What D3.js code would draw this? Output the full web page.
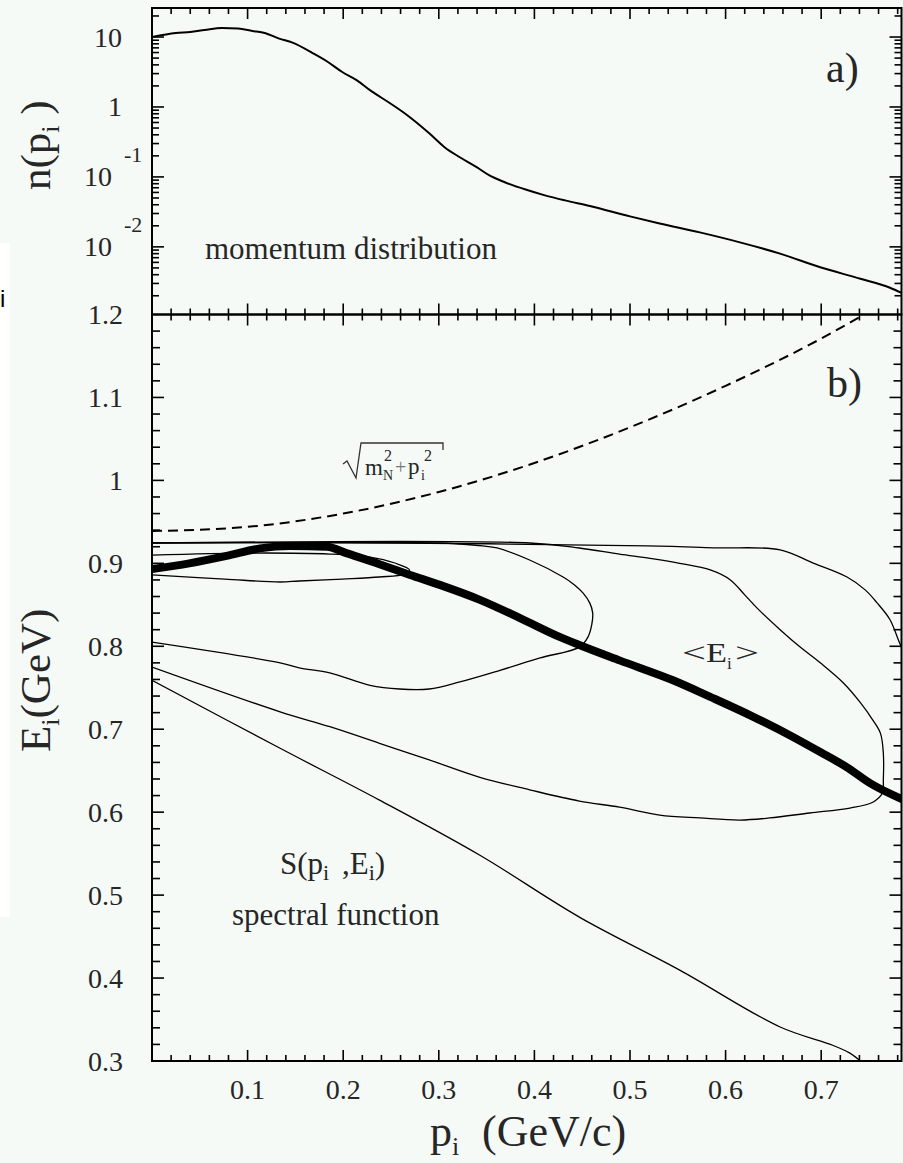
<!DOCTYPE html>
<html>
<head>
<meta charset="utf-8">
<script src="https://cdn.jsdelivr.net/npm/d3@7"></script>
<style>
  html, body { margin: 0; padding: 0; background: #f5faf7; }
  svg { display: block; }
  text { font-family: "Liberation Serif", "Times New Roman", serif; fill: #262626; }
</style>
</head>
<body>
<svg id="chart" width="903" height="1163"></svg>
<script>
// ---- a) momentum distribution n(p_i) ----
const momP = [0, 0.025, 0.04, 0.055, 0.073, 0.09, 0.105, 0.118, 0.133, 0.147, 0.168, 0.184, 0.199, 0.214, 0.228, 0.249, 0.266, 0.29, 0.306, 0.322, 0.34, 0.353, 0.369, 0.39, 0.411, 0.432, 0.458, 0.5, 0.531, 0.573, 0.615, 0.657, 0.699, 0.741, 0.772, 0.784];
const momN = [10, 11.4, 11.8, 12.6, 13.5, 13.2, 12.2, 11.4, 9.5, 8.3, 5.9, 4.4, 3.16, 2.42, 1.74, 1.13, 0.78, 0.42, 0.266, 0.191, 0.137, 0.105, 0.084, 0.0665, 0.0545, 0.0462, 0.0385, 0.0273, 0.0216, 0.0161, 0.0116, 0.008, 0.0051, 0.0035, 0.0026, 0.0022];

// ---- b) on-shell energy sqrt(mN^2 + p^2) ----
const onShellP = [0, 0.1, 0.2, 0.3, 0.4, 0.5, 0.6, 0.7, 0.745];
const onShellE = [0.939, 0.944, 0.960, 0.986, 1.021, 1.064, 1.114, 1.171, 1.2];

// ---- b) mean removal energy <E_i> ----
const meanP = [0, 0.039, 0.078, 0.113, 0.144, 0.183, 0.204, 0.238, 0.27, 0.301, 0.343, 0.385, 0.427, 0.447, 0.489, 0.545, 0.584, 0.629, 0.67, 0.699, 0.727, 0.751, 0.786];
const meanE = [0.893, 0.900, 0.909, 0.918, 0.921, 0.920, 0.912, 0.899, 0.886, 0.874, 0.856, 0.834, 0.811, 0.8015, 0.783, 0.759, 0.739, 0.715, 0.691, 0.6725, 0.654, 0.635, 0.615];

// ---- b) contour lines of the spectral function S(p_i, E_i) ----
const contAP = [0, 0.259, 0.518, 0.591, 0.657, 0.691, 0.727, 0.746, 0.758, 0.772, 0.782, 0.79];
const contAE = [0.925, 0.9245, 0.921, 0.9187, 0.9163, 0.9006, 0.8835, 0.868, 0.853, 0.832, 0.804, 0.785];

const contBP = [0, 0.301, 0.322, 0.346, 0.361, 0.395, 0.430, 0.442, 0.451, 0.458, 0.461, 0.460, 0.456, 0.447, 0.406, 0.364, 0.322, 0.290, 0.259, 0.228, 0.186, 0.154, 0.134, 0];
const contBE = [0.9245, 0.9245, 0.9233, 0.921, 0.9185, 0.904, 0.8835, 0.874, 0.864, 0.852, 0.840, 0.826, 0.811, 0.799, 0.786, 0.771, 0.757, 0.7485, 0.7485, 0.753, 0.768, 0.774, 0.780, 0.805];

const contCP = [0, 0.395, 0.447, 0.489, 0.521, 0.552, 0.584, 0.605, 0.620, 0.633, 0.657, 0.678, 0.699, 0.723, 0.741, 0.754, 0.762, 0.765, 0.765, 0.764, 0.754, 0.730, 0.688, 0.646, 0.615, 0.573, 0.531, 0.489, 0.447, 0.395, 0.343, 0.290, 0.238, 0.186, 0.134, 0];
const contCE = [0.9245, 0.9245, 0.9185, 0.911, 0.906, 0.900, 0.892, 0.880, 0.862, 0.846, 0.820, 0.799, 0.780, 0.756, 0.732, 0.711, 0.695, 0.671, 0.639, 0.623, 0.612, 0.605, 0.599, 0.593, 0.5905, 0.593, 0.5965, 0.606, 0.6134, 0.627, 0.642, 0.663, 0.683, 0.703, 0.721, 0.775];

const contDP = [0, 0.134, 0.238, 0.343, 0.447, 0.552, 0.657, 0.712, 0.730, 0.741];
const contDE = [0.759, 0.677, 0.6145, 0.548, 0.4735, 0.4096, 0.341, 0.319, 0.3095, 0.3];

const contEP = [0, 0.102, 0.186, 0.228, 0.254, 0.2695, 0.264, 0.238, 0.199, 0.154, 0.134, 0.076, 0];
const contEE = [0.910, 0.9124, 0.9112, 0.9076, 0.9004, 0.892, 0.887, 0.8835, 0.881, 0.8787, 0.8775, 0.881, 0.886];

// ---- tick labels ----
const xTickVals = [0.1, 0.2, 0.3, 0.4, 0.5, 0.6, 0.7];
const xTickLabels = ["0.1", "0.2", "0.3", "0.4", "0.5", "0.6", "0.7"];
const eTickVals = [1.2, 1.1, 1.0, 0.9, 0.8, 0.7, 0.6, 0.5, 0.4, 0.3];
const eTickLabels = ["1.2", "1.1", "1", "0.9", "0.8", "0.7", "0.6", "0.5", "0.4", "0.3"];
const nTickVals = [10, 1, 0.1, 0.01];
const nTickBase = ["10", "1", "10", "10"];
const nTickExp = ["", "", "-1", "-2"];

// ---- layout ----
const left = 152, right = 901.5;
const aTop = 8, mid = 314.5, bBottom = 1061;

const svg = d3.select("#chart");

const x = d3.scaleLinear().domain([0, 0.784]).range([left, right]);
const yA = d3.scaleLog().domain([Math.pow(10, -2.967), Math.pow(10, 1.415)]).range([mid, aTop]);
const yB = d3.scaleLinear().domain([0.3, 1.2]).range([bBottom, mid]);

// background and a small white strip at the left margin
svg.append("rect").attr("x", 0).attr("y", 0).attr("width", 903).attr("height", 1163).attr("fill", "#f5faf7");
svg.append("rect").attr("x", 0).attr("y", 243).attr("width", 10).attr("height", 674).attr("fill", "#ffffff");
svg.append("text").attr("x", 0).attr("y", 307)
  .style("font-family", "'Liberation Sans', Arial, sans-serif").style("font-size", "24px").style("fill", "#000")
  .text("i");

// clip regions
const defs = svg.append("defs");
defs.append("clipPath").attr("id", "clipA").append("rect")
  .attr("x", left).attr("y", aTop).attr("width", right - left).attr("height", mid - aTop);
defs.append("clipPath").attr("id", "clipB").append("rect")
  .attr("x", left).attr("y", mid).attr("width", right - left).attr("height", bBottom - mid);

// ---- panel a curve ----
const gA = svg.append("g").attr("clip-path", "url(#clipA)");
const lineA = d3.line().x(d => x(d[0])).y(d => yA(d[1])).curve(d3.curveMonotoneX);
gA.append("path").datum(momP.map((p, i) => [p, momN[i]]))
  .attr("d", lineA).attr("fill", "none").attr("stroke", "#000").attr("stroke-width", 2);

// ---- panel b curves ----
const gB = svg.append("g").attr("clip-path", "url(#clipB)");
const lineMono = d3.line().x(d => x(d[0])).y(d => yB(d[1])).curve(d3.curveMonotoneX);
const lineLoop = d3.line().x(d => x(d[0])).y(d => yB(d[1])).curve(d3.curveCatmullRom.alpha(0.5));
const zip = (P, E) => P.map((p, i) => [p, E[i]]);

[[contAP, contAE], [contBP, contBE], [contCP, contCE], [contEP, contEE], [contDP, contDE]].forEach(([P, E]) => {
  gB.append("path").datum(zip(P, E)).attr("d", lineLoop)
    .attr("fill", "none").attr("stroke", "#000").attr("stroke-width", 1.3);
});

gB.append("path").datum(zip(onShellP, onShellE)).attr("d", lineMono)
  .attr("fill", "none").attr("stroke", "#000").attr("stroke-width", 2)
  .attr("stroke-dasharray", "10,6");

gB.append("path").datum(zip(meanP, meanE)).attr("d", lineMono)
  .attr("fill", "none").attr("stroke", "#000").attr("stroke-width", 8)
  .attr("stroke-linejoin", "round");

// ---- frames and ticks ----
const axes = svg.append("g").attr("stroke", "#000").attr("fill", "none");
axes.append("rect").attr("x", left).attr("y", aTop).attr("width", right - left).attr("height", mid - aTop).attr("stroke-width", 2);
axes.append("rect").attr("x", left).attr("y", mid).attr("width", right - left).attr("height", bBottom - mid).attr("stroke-width", 2);

function seg(x1, y1, x2, y2, w) {
  axes.append("line").attr("x1", x1).attr("y1", y1).attr("x2", x2).attr("y2", y2).attr("stroke-width", w || 1.6);
}

// p ticks every 0.02, major every 0.1
const xTickAll = d3.range(1, 40).map(i => i / 50);
xTickAll.forEach((v, k) => {
  const major = (k + 1) % 5 === 0;
  const len = major ? 11 : 6;
  const px = x(v);
  if (px > right) return;
  seg(px, aTop, px, aTop + len);        // top of a
  seg(px, mid, px, mid - len);          // bottom of a
  seg(px, mid, px, mid + len);          // top of b
  seg(px, bBottom, px, bBottom - len);  // bottom of b
});

// E ticks every 0.02, major every 0.1
d3.range(16, 60).map(i => i / 50).forEach(v => {
  const major = Math.round(v * 50) % 5 === 0;
  const len = major ? 12 : 8;
  const py = yB(v);
  seg(left, py, left + len, py);
  seg(right, py, right - len, py);
});

// log ticks in panel a
const logDom = yA.domain();
for (let e = -3; e <= 1; e++) {
  for (let m = 1; m <= 9; m++) {
    const v = m * Math.pow(10, e);
    if (v < logDom[0] || v > logDom[1]) continue;
    const len = m === 1 ? 12 : 7;
    const py = yA(v);
    seg(left, py, left + len, py);
    seg(right, py, right - len, py);
  }
}

// ---- tick labels ----
const tickFont = 28;
svg.append("g").selectAll("text").data(xTickVals).join("text")
  .attr("x", d => x(d)).attr("y", 1099)
  .attr("text-anchor", "middle").style("font-size", tickFont + "px")
  .text((d, i) => xTickLabels[i]);

svg.append("g").selectAll("text").data(eTickVals).join("text")
  .attr("x", 123).attr("y", d => yB(d) + tickFont * 0.34)
  .attr("text-anchor", "end").style("font-size", tickFont + "px")
  .text((d, i) => eTickLabels[i]);

const nLab = svg.append("g");
nTickVals.forEach((v, i) => {
  const py = yA(v);
  if (nTickExp[i]) {
    nLab.append("text").attr("x", 112).attr("y", py + tickFont * 0.34)
      .attr("text-anchor", "end").style("font-size", tickFont + "px").text(nTickBase[i]);
    nLab.append("text").attr("x", 124).attr("y", py - 15)
      .attr("text-anchor", "start").style("font-size", "22px").text(nTickExp[i]);
  } else {
    nLab.append("text").attr("x", 122).attr("y", py + tickFont * 0.34)
      .attr("text-anchor", "end").style("font-size", tickFont + "px").text(nTickBase[i]);
  }
});

// ---- axis titles ----
const tN = svg.append("text").attr("transform", "translate(50,190) rotate(-90)").style("font-size", "43px");
tN.append("tspan").text("n(p");
tN.append("tspan").attr("dy", 9).style("font-size", "26px").text("i");
tN.append("tspan").attr("dy", -9).text(" )");

const tE = svg.append("text").attr("transform", "translate(50,752) rotate(-90)").style("font-size", "43px");
tE.append("tspan").text("E");
tE.append("tspan").attr("dy", 9).style("font-size", "26px").text("i");
tE.append("tspan").attr("dy", -9).text("(GeV)");

const tP = svg.append("text").attr("x", 430).attr("y", 1146).style("font-size", "44px");
tP.append("tspan").text("p");
tP.append("tspan").attr("dy", 9).style("font-size", "26px").text("i");
tP.append("tspan").attr("x", 482).attr("dy", -9).text("(GeV/c)");

// ---- annotations ----
svg.append("text").attr("x", 826).attr("y", 82).style("font-size", "42px").text("a)");
svg.append("text").attr("x", 827).attr("y", 397).style("font-size", "42px").text("b)");
svg.append("text").attr("x", 205).attr("y", 259).style("font-size", "31px").text("momentum distribution");

const tS = svg.append("text").attr("x", 280).attr("y", 874).style("font-size", "31px");
tS.append("tspan").text("S(p");
tS.append("tspan").attr("dy", 6).style("font-size", "22px").text("i");
tS.append("tspan").attr("dy", -6).attr("x", 342).text(",E");
tS.append("tspan").attr("dy", 6).style("font-size", "22px").text("i");
tS.append("tspan").attr("dy", -6).text(")");
svg.append("text").attr("x", 232).attr("y", 925).style("font-size", "31px").text("spectral function");

// <E_i>
const tM = svg.append("g").style("fill", "#333");
tM.append("text").attr("x", 682).attr("y", 662).style("font-size", "27px")
  .attr("textLength", 24).attr("lengthAdjust", "spacingAndGlyphs").text("<");
tM.append("text").attr("x", 706).attr("y", 662).style("font-size", "28px")
  .attr("textLength", 21).attr("lengthAdjust", "spacingAndGlyphs").text("E");
tM.append("text").attr("x", 727).attr("y", 669).style("font-size", "17px").text("i");
tM.append("text").attr("x", 735).attr("y", 662).style("font-size", "27px")
  .attr("textLength", 24).attr("lengthAdjust", "spacingAndGlyphs").text(">");

// sqrt(m_N^2 + p_i^2)
const sq = svg.append("g").style("fill", "#444");
sq.append("path").attr("d", "M343,464 L347,461 L356,478 L361,443 L443,443 L443,450")
  .attr("fill", "none").attr("stroke", "#333").attr("stroke-width", 1.3);
sq.append("text").attr("x", 365).attr("y", 475).style("font-size", "23px").text("m");
sq.append("text").attr("x", 383).attr("y", 480).style("font-size", "14px").text("N");
sq.append("text").attr("x", 384).attr("y", 461).style("font-size", "16px").text("2");
sq.append("text").attr("x", 395).attr("y", 474).style("font-size", "20px").style("fill", "#777").text("+");
sq.append("text").attr("x", 408).attr("y", 474).style("font-size", "23px").text("p");
sq.append("text").attr("x", 421).attr("y", 480).style("font-size", "14px").text("i");
sq.append("text").attr("x", 424).attr("y", 461).style("font-size", "16px").text("2");
</script>
</body>
</html>
